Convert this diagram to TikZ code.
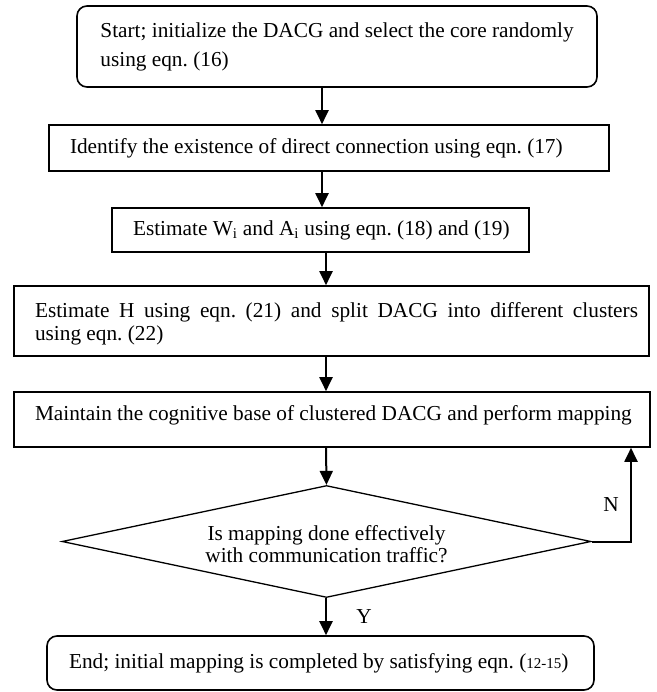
\documentclass[tikz,border=0pt]{standalone}
\usepackage{fontspec}
\setmainfont{Liberation Serif}
\usetikzlibrary{shapes.geometric,arrows.meta}
\begin{document}
\frenchspacing
\begin{tikzpicture}[x=1pt,y=-1pt,
  every node/.style={font=\fontsize{21.3pt}{25pt}\selectfont},
  procbox/.style={draw, line width=1.6pt, inner sep=0pt, align=flush left},
  rbox/.style={procbox, rounded corners=10pt},
  flow/.style={line width=2pt, -{Triangle[width=13pt,length=14pt]}},
  lbl/.style={inner sep=0pt}
]
\useasboundingbox (0,0) rectangle (656,692);
\coordinate (c1) at (322,0);
\coordinate (c2) at (326,0);
\coordinate (nx) at (631,0);

\node[rbox, minimum width=520pt, minimum height=81pt, align=left,
      font=\fontsize{21.3pt}{29pt}\selectfont] (b1) at (337,46.5)
  {Start; initialize the DACG and select the core randomly\\using eqn. (16)};

\node[procbox, text width=560pt, minimum height=46pt] (b2) at (329,148)
  {\hspace*{21pt}Identify the existence of direct connection using eqn. (17)};

\node[procbox, text width=417pt, minimum height=44pt] (b3) at (320.5,230)
  {\hspace*{21pt}Estimate W\textsubscript{i} and A\textsubscript{i} using eqn. (18) and (19)};

\node[draw, line width=1.6pt, inner sep=0pt, minimum width=635pt, minimum height=70pt,
      font=\fontsize{21.3pt}{23pt}\selectfont] (b4) at (331.5,321)
  {\hspace*{21pt}\parbox{603pt}{\vspace*{5pt}\tolerance=9999 Estimate H using eqn. (21) and split DACG into different clusters\linebreak using eqn. (22)}\hspace*{11pt}};

\node[procbox, text width=636pt, minimum height=55pt, text depth=14pt] (b5) at (332,419.5)
  {\hspace*{21pt}Maintain the cognitive base of clustered DACG and perform mapping};

\node[draw, diamond, line width=1.3pt, minimum width=529pt, minimum height=112pt,
      inner sep=0pt, aspect=4.72, align=center, text height=43pt,
      font=\fontsize{21.3pt}{22pt}\selectfont] (dia) at (326.5,541.5)
  {Is mapping done effectively\\with communication traffic?};

\node[rbox, text width=547pt, minimum height=54pt] (b6) at (320.5,663)
  {\hspace*{22pt}End; initial mapping is completed by satisfying eqn. ({\fontsize{15pt}{18pt}\selectfont 12-15})};

\node[lbl] (ylab) at (364,617) {Y};
\node[lbl] (nlab) at (611,505) {N};

\draw[flow] (b1.south -| c1) -- (b2.north -| c1);
\draw[flow] (b2.south -| c1) -- (b3.north -| c1);
\draw[flow] (b3.south -| c2) -- (b4.north -| c2);
\draw[flow] (b4.south -| c2) -- (b5.north -| c2);
\draw[flow] (b5.south -| c2) -- (dia.north);
\draw[flow] (dia.south -| c2) -- (b6.north -| c2);
\draw[flow] (dia.east) -| (b5.south -| nx);
\end{tikzpicture}
\end{document}
